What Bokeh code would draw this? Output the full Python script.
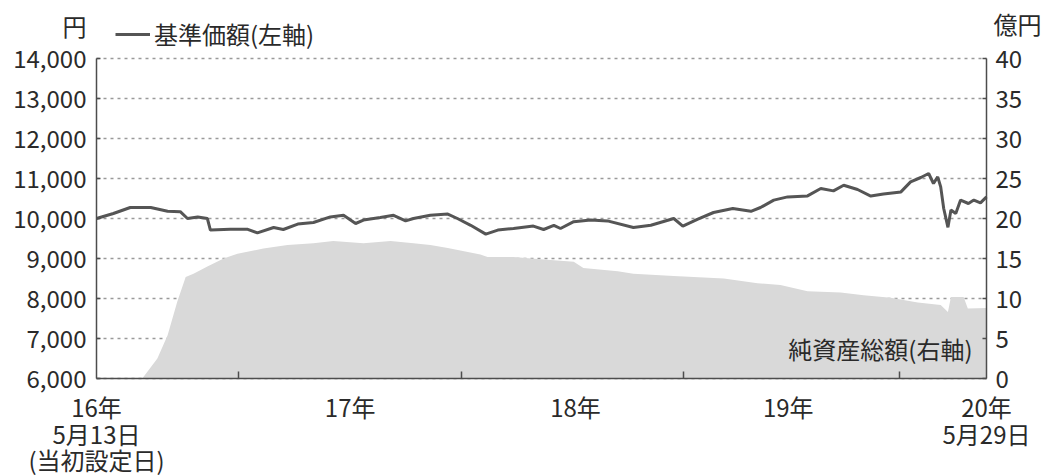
import pandas as pd
from bokeh.plotting import figure
from bokeh.models import (Range1d, LinearAxis, FixedTicker, NumeralTickFormatter,
                          Label, Legend, LegendItem)
from bokeh.embed import file_html
from bokeh.resources import INLINE

# ---- data ----
nav_dates = [
    "2016-05-13", "2016-06-10", "2016-07-08", "2016-08-11", "2016-09-08", "2016-09-29",
    "2016-10-11", "2016-10-28", "2016-11-13", "2016-11-18", "2016-12-21", "2017-01-19",
    "2017-02-04", "2017-03-03", "2017-03-19", "2017-04-12", "2017-05-08", "2017-06-05",
    "2017-06-27", "2017-07-17", "2017-07-30", "2017-08-27", "2017-09-18", "2017-10-08",
    "2017-10-21", "2017-11-18", "2017-12-17", "2018-01-02", "2018-01-24", "2018-02-18",
    "2018-03-10", "2018-04-05", "2018-05-08", "2018-05-25", "2018-06-11", "2018-06-22",
    "2018-07-14", "2018-08-11", "2018-09-08", "2018-10-21", "2018-11-19", "2018-12-27",
    "2019-01-11", "2019-02-05", "2019-03-03", "2019-04-04", "2019-05-04", "2019-05-20",
    "2019-06-11", "2019-07-04", "2019-08-06", "2019-08-28", "2019-09-18", "2019-10-05",
    "2019-10-28", "2019-11-19", "2019-12-10", "2020-01-08", "2020-01-24", "2020-02-10",
    "2020-02-23", "2020-03-02", "2020-03-09", "2020-03-14", "2020-03-19", "2020-03-26",
    "2020-03-31", "2020-04-08", "2020-04-16", "2020-04-29", "2020-05-08", "2020-05-19",
    "2020-05-29",
]
nav_values = [
    10000, 10125, 10275, 10275, 10180, 10170,
    10000, 10040, 10000, 9710, 9730, 9730,
    9640, 9775, 9725, 9860, 9900, 10040,
    10080, 9875, 9960, 10025, 10080, 9940,
    10000, 10080, 10110, 10000, 9830, 9610,
    9710, 9750, 9810, 9725, 9830, 9750,
    9920, 9960, 9940, 9775, 9830, 10000,
    9810, 9985, 10150, 10250, 10180, 10275,
    10460, 10540, 10565, 10750, 10690, 10830,
    10725, 10560, 10610, 10665, 10915, 11025,
    11125, 10875, 11040, 10790, 10250, 9780,
    10210, 10125, 10460, 10375, 10460, 10390,
    10540,
]
asset_dates = [
    "2016-05-13", "2016-07-28", "2016-08-22", "2016-09-08", "2016-09-24", "2016-10-08",
    "2016-10-21", "2016-11-13", "2016-12-10", "2017-01-02", "2017-02-14", "2017-03-26",
    "2017-05-08", "2017-06-10", "2017-07-30", "2017-09-13", "2017-10-21", "2017-11-18",
    "2017-12-17", "2018-02-09", "2018-02-21", "2018-04-05", "2018-05-20", "2018-07-14",
    "2018-07-30", "2018-09-25", "2018-10-21", "2018-12-27", "2019-03-20", "2019-05-15",
    "2019-06-22", "2019-08-06", "2019-09-30", "2019-11-07", "2019-12-22", "2020-02-05",
    "2020-03-14", "2020-03-26", "2020-03-31", "2020-04-21", "2020-04-28", "2020-05-29",
]
asset_values = [
    0, 0, 2.5, 5.4, 9.6, 12.7,
    13.1, 14.0, 15.0, 15.6, 16.25, 16.7,
    16.9, 17.2, 16.9, 17.2, 16.9, 16.7,
    16.3, 15.5, 15.2, 15.2, 14.9, 14.6,
    13.8, 13.4, 13.1, 12.8, 12.5, 11.9,
    11.7, 10.9, 10.75, 10.4, 10.1, 9.5,
    9.2, 8.3, 10.2, 10.2, 8.75, 8.8,
]
x_start = "2016-05-13"
x_end = "2020-05-29"
year_label_dates = ["2016-05-13", "2017-07-08", "2018-07-17", "2019-07-05", "2020-05-29"]
year_labels = ["16年", "17年", "18年", "19年", "20年"]
day_label_dates = ["2016-05-13", "2020-05-29"]
day_labels = ["5月13日", "5月29日"]
note_label_dates = ["2016-05-13"]
note_labels = ["(当初設定日)"]
year_boundaries = ["2017-01-04", "2018-01-09", "2019-01-12", "2020-01-05"]
left_ticks = list(range(6000, 14001, 1000))
right_ticks = list(range(0, 41, 5))
nav_legend = "基準価額(左軸)"
asset_label = "純資産総額(右軸)"
left_unit = "円"
right_unit = "億円"


def ms(s):
    return float(pd.Timestamp(s).value // 1_000_000)


FONT = "Noto Sans CJK JP"
TXT = "#2a2a2a"
AX = "#4d4d4d"
FS = "24px"

# canvas geometry (pixels): whole canvas is the frame
W, H = 1045, 475
PX_L, PX_R = 96, 986
PY_T, PY_B = 58, 378

x0, x1 = ms(x_start), ms(x_end)
sx = (x1 - x0) / (PX_R - PX_L)
xr = Range1d(x0 - PX_L * sx, x0 + (W - PX_L) * sx)
sy = (14000 - 6000) / (PY_B - PY_T)
yr = Range1d(6000 - (H - PY_B) * sy, 6000 + PY_B * sy)
sr = 40 / (PY_B - PY_T)
rr = Range1d(0 - (H - PY_B) * sr, PY_B * sr)


def to_x(px):
    return xr.start + px * sx


def to_y(py):
    return yr.end - py * sy


p = figure(width=W, height=H, x_range=xr, y_range=yr,
           output_backend="svg", toolbar_location=None, min_border=0)
p.title.visible = False
p.outline_line_color = None
p.background_fill_color = "white"
p.extra_y_ranges = {"right": rr}

p.varea(x=[ms(d) for d in asset_dates], y1=0, y2=asset_values,
        y_range_name="right", fill_color="#d9d9d9")
nav_line = p.line([ms(d) for d in nav_dates], nav_values,
                  line_color="#555555", line_width=3)

# grid
p.xgrid.visible = False
p.ygrid.ticker = FixedTicker(ticks=left_ticks)
p.ygrid.bounds = (6000, 14000)
p.ygrid.cross_bounds = (x0, x1)
p.ygrid.grid_line_color = "#9a9a9a"
p.ygrid.grid_line_dash = "3 4"
p.ygrid.grid_line_width = 1.3


def style_axis(ax):
    ax.axis_line_color = AX
    ax.axis_line_width = 1.5
    ax.major_tick_line_color = AX
    ax.major_tick_line_width = 1.5
    ax.major_label_text_font = FONT
    ax.major_label_text_font_size = FS
    ax.major_label_text_color = TXT
    ax.minor_tick_line_color = None


# left axis
ly = p.yaxis[0]
ly.fixed_location = x0
ly.bounds = (6000, 14000)
ly.ticker = FixedTicker(ticks=left_ticks)
ly.formatter = NumeralTickFormatter(format="0,0")
style_axis(ly)
ly.major_tick_out = 0
ly.major_tick_in = 4
ly.major_label_standoff = 10

# right axis
ry = LinearAxis(y_range_name="right", ticker=FixedTicker(ticks=right_ticks),
                fixed_location=x1, bounds=(0, 40))
style_axis(ry)
ry.major_tick_out = 0
ry.major_tick_in = 4
ry.major_label_standoff = 9
p.add_layout(ry, "right")

# bottom axis, first row of labels + year boundary marks
row1 = [ms(d) for d in year_label_dates]
bx = p.xaxis[0]
bx.fixed_location = 6000
bx.bounds = (x0, x1)
bx.ticker = FixedTicker(ticks=row1, minor_ticks=[ms(d) for d in year_boundaries])
bx.major_label_overrides = dict(zip(row1, year_labels))
style_axis(bx)
bx.major_tick_in = 0
bx.major_tick_out = 0
bx.minor_tick_in = 7
bx.minor_tick_out = 0
bx.minor_tick_line_color = AX
bx.minor_tick_line_width = 1.5
bx.major_label_standoff = 10


def label_row(dates, labels, standoff):
    pos = [ms(d) for d in dates]
    ax = LinearAxis(ticker=FixedTicker(ticks=pos), fixed_location=6000, bounds=(x0, x1))
    ax.major_label_overrides = dict(zip(pos, labels))
    style_axis(ax)
    ax.axis_line_color = None
    ax.major_tick_line_color = None
    ax.major_tick_in = 0
    ax.major_tick_out = 0
    ax.major_label_standoff = standoff
    p.add_layout(ax, "below")


label_row(day_label_dates, day_labels, 37)
label_row(note_label_dates, note_labels, 63)

# texts
p.add_layout(Label(x=to_x(74), y=to_y(25), text=left_unit,
                   text_font=FONT, text_font_size=FS, text_color=TXT,
                   text_align="center", text_baseline="middle"))
p.add_layout(Label(x=to_x(1017), y=to_y(23), text=right_unit,
                   text_font=FONT, text_font_size=FS, text_color=TXT,
                   text_align="center", text_baseline="middle"))
p.add_layout(Label(x=to_x(972), y=to_y(348), text=asset_label,
                   text_font=FONT, text_font_size=FS, text_color=TXT,
                   text_align="right", text_baseline="middle"))

legend = Legend(items=[LegendItem(label=nav_legend, renderers=[nav_line])],
                location=(115, H - 51), orientation="horizontal",
                background_fill_alpha=0, border_line_color=None,
                padding=0, margin=0, glyph_width=35, glyph_height=24,
                label_height=24, label_standoff=4, label_text_font=FONT,
                label_text_font_size=FS, label_text_color=TXT)
p.add_layout(legend)

open("out.html", "w").write(file_html(p, INLINE))
